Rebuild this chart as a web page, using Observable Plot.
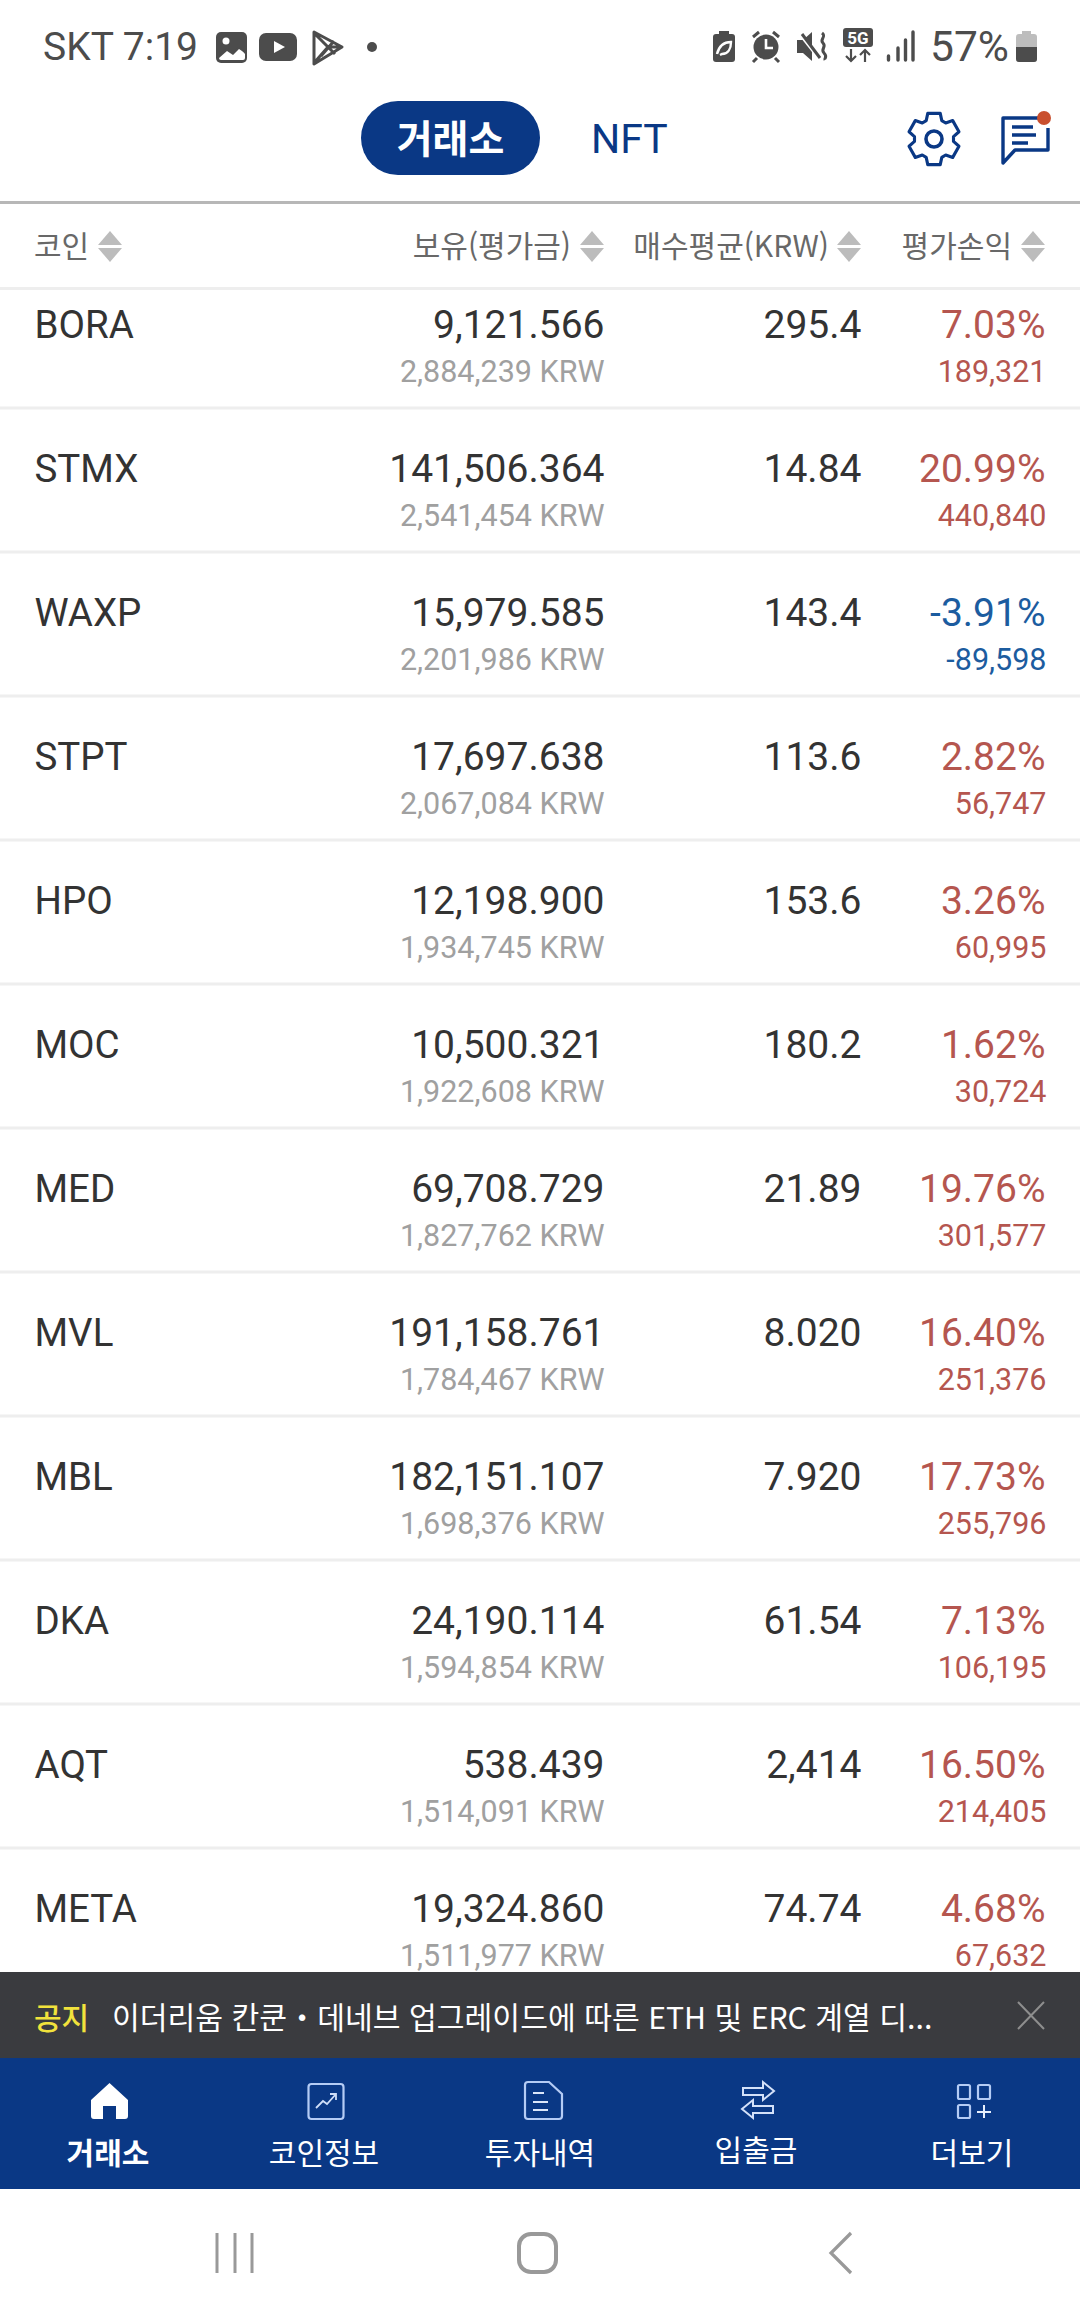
<!DOCTYPE html>
<html lang="ko"><head><meta charset="utf-8">
<script src="https://cdn.jsdelivr.net/npm/d3@7"></script>
<script src="https://cdn.jsdelivr.net/npm/@observablehq/plot@0.6"></script>
<style>
html,body{margin:0;padding:0;background:#fff;width:1080px;height:2316px;overflow:hidden;font-family:Roboto,"Noto Sans CJK KR",sans-serif}
#header{position:relative;height:288px;width:1080px;z-index:2}
#table{position:relative;width:1080px;height:1684px;overflow:hidden}
#table svg{display:block;overflow:hidden}
#footer{position:relative;width:1080px;height:344px}
.t{position:absolute;white-space:nowrap;line-height:1}
.kr{font-family:"Noto Sans CJK KR",sans-serif}
svg.ov{position:absolute;left:0;top:0;overflow:visible}
</style></head><body>
<div id="header">
<svg class="ov" width="1080" height="288" viewBox="0 0 1080 288">
  <!-- status bar left icons -->
  <rect x="216" y="32" width="31" height="31" rx="5" fill="#4c4c4c"/>
  <circle cx="226" cy="41" r="3.5" fill="#fff"/>
  <path d="M219 56l8-7 6 4 6-6 6 7v4a2 2 0 0 1-2 2h-22a2 2 0 0 1-2-2z" fill="#fff"/>
  <path d="M219 55l8-7 6 4 6-6 6 6v1l-6-4-6 6-6-4-8 7z" fill="#4c4c4c"/>
  <rect x="259" y="33" width="38" height="28" rx="7" fill="#4c4c4c"/>
  <path d="M274 41l11 6-11 6z" fill="#fff"/>
  <path d="M314 32l28 15-28 17zM314 33l14 14-14 16M328 47h13M321 40l14 14M321 56l13-15" fill="none" stroke="#4c4c4c" stroke-width="3" stroke-linejoin="round"/>
  <circle cx="372" cy="47" r="5" fill="#4c4c4c"/>
  <!-- status bar right icons -->
  <rect x="713" y="34" width="22" height="28" rx="3" fill="#4c4c4c"/><rect x="719" y="31" width="10" height="4" fill="#4c4c4c"/>
  <path d="M717 54c2-8 7-12 14-12 0 7-3 12-9 12l-2 1" fill="none" stroke="#fff" stroke-width="2.4"/>
  <circle cx="766" cy="47" r="12.5" fill="#4c4c4c"/>
  <path d="M766 39v9h7" fill="none" stroke="#fff" stroke-width="2.6"/>
  <path d="M753 37l6-5M779 37l-6-5M757 58l-4 4M775 58l4 4" stroke="#4c4c4c" stroke-width="3" fill="none"/>
  <path d="M797 40h6l9-8v29l-9-8h-6z" fill="#4c4c4c"/>
  <path d="M799 33l22 28" stroke="#fff" stroke-width="3"/><path d="M802 34l18 24" stroke="#4c4c4c" stroke-width="3"/>
  <path d="M822 33c5 4-3 6 1 10s-3 6 1 10 0 5 1 7" fill="none" stroke="#4c4c4c" stroke-width="3"/>
  <rect x="843" y="28" width="30" height="19" rx="3" fill="#4c4c4c"/>
  <text x="858" y="44" text-anchor="middle" font-family="Roboto" font-weight="700" font-size="17" fill="#fff">5G</text>
  <path d="M851 49v12M846 56l5 5 5-5M865 62v-12M860 55l5-5 5 5" fill="none" stroke="#4c4c4c" stroke-width="2.2"/>
  <path d="M888.500 56v4M898 48v12M905.500 40v20M913 32v28" stroke="#4c4c4c" stroke-width="3.4" stroke-linecap="round" fill="none"/>
  <rect x="1016" y="34" width="21" height="28" rx="3" fill="#bdbdbd"/><rect x="1022" y="31" width="9" height="4" fill="#bdbdbd"/>
  <path d="M1016 47h21v12a3 3 0 0 1-3 3h-15a3 3 0 0 1-3-3z" fill="#4c4c4c"/>
  <!-- tab pill -->
  <rect x="361" y="101" width="179" height="74" rx="37" fill="#0a3885"/>
  <!-- gear -->
  <path d="M926 112h16l2 9 5 3 9-3 8 14-7 6v6l7 6-8 14-9-3-5 3-2 9h-16l-2-9-5-3-9 3-8-14 7-6v-6l-7-6 8-14 9 3 5-3z" transform="translate(934 139) scale(.78 .8) translate(-934 -144)" fill="none" stroke="#0a3885" stroke-width="4" stroke-linejoin="round"/>
  <circle cx="934" cy="139" r="8" fill="none" stroke="#0a3885" stroke-width="3.6"/>
  <!-- chat -->
  <path d="M1040 118h-37v45l12-13h33v-22" fill="none" stroke="#0a3885" stroke-width="3.4" stroke-linejoin="round"/>
  <path d="M1012 127h21M1012 135h24M1012 143h16" stroke="#0a3885" stroke-width="3.4" fill="none"/>
  <circle cx="1044" cy="118" r="7" fill="#c9502f"/>
  <!-- rules -->
  <rect x="0" y="201" width="1080" height="3" fill="#b7b7b7"/>
  <rect x="0" y="287" width="1080" height="3" fill="#eeeeee"/>
  <g id="arrows" fill="#bcbcbc"></g>
</svg>
<div id="htext"></div>
</div>
<div id="table"></div>
<div id="footer">
<svg class="ov" width="1080" height="344" viewBox="0 1972 1080 344">
  <rect x="0" y="1972" width="1080" height="86" fill="#3a3b3f"/>
  <rect x="0" y="2058" width="1080" height="131" fill="#0a3885"/>
  <path d="M1018 2002l26 27M1044 2002l-26 27" stroke="#8e8e8e" stroke-width="2" fill="none"/>
  <!-- home -->
  <path d="M109.500 2083l18.500 17v16a3 3 0 0 1-3 3h-9v-13h-13v13h-9a3 3 0 0 1-3-3v-16z" fill="#fff"/>
  <!-- chart -->
  <rect x="308.500" y="2084" width="35" height="35" rx="3" fill="none" stroke="#b5ccf5" stroke-width="2.2"/>
  <path d="M316 2108l7-7 4 3 9-10M330 2094h6v6" fill="none" stroke="#cfdef8" stroke-width="1.8"/>
  <!-- doc -->
  <path d="M526 2082h21l13 12v22a3 3 0 0 1-3 3h-31a3 3 0 0 1-3-3v-31a3 3 0 0 1 3-3z" transform="translate(2 0)" fill="none" stroke="#b5ccf5" stroke-width="2.2"/>
  <path d="M533 2093h11M533 2102h15M533 2110h15" fill="none" stroke="#dbe6fa" stroke-width="2"/>
  <!-- exchange -->
  <path d="M743 2088h20v-6l11 9-11 9v-5h-20zM773 2106h-20v-6l-11 9 11 9v-5h20z" fill="none" stroke="#d4e1f9" stroke-width="2"/>
  <!-- more -->
  <g fill="none" stroke="#b5ccf5" stroke-width="2.200">
    <rect x="958" y="2085" width="12" height="14" rx="1.500"/><rect x="978" y="2085" width="12" height="14" rx="1.500"/><rect x="958" y="2105" width="12" height="13" rx="1.500"/>
  </g>
  <path d="M977 2112h14M984 2105v13" stroke="#e6eefc" stroke-width="2" fill="none"/>
  <!-- android nav -->
  <path d="M217 2233v40M235 2233v40M252 2233v40" stroke="#999" stroke-width="3" fill="none"/>
  <rect x="519" y="2234" width="37" height="38" rx="12" fill="none" stroke="#999" stroke-width="4"/>
  <path d="M851 2233l-20 20 20 20" stroke="#999" stroke-width="3.2" fill="none"/>
</svg>
<div id="ftext"></div>
</div>

<script>
// ---- table data ----
const coins = ["BORA","STMX","WAXP","STPT","HPO","MOC","MED","MVL","MBL","DKA","AQT","META"];
const holdings = [9121.566,141506.364,15979.585,17697.638,12198.900,10500.321,69708.729,191158.761,182151.107,24190.114,538.439,19324.860];
const valuesKRW = [2884239,2541454,2201986,2067084,1934745,1922608,1827762,1784467,1698376,1594854,1514091,1511977];
const avgPrices = ["295.4","14.84","143.4","113.6","153.6","180.2","21.89","8.020","7.920","61.54","2,414","74.74"];
const pnlPct = [7.03,20.99,-3.91,2.82,3.26,1.62,19.76,16.40,17.73,7.13,16.50,4.68];
const pnlKRW = [189321,440840,-89598,56747,60995,30724,301577,251376,255796,106195,214405,67632];
const columnLabels = ["코인","보유(평가금)","매수평균(KRW)","평가손익"];
const tabLabels = ["거래소","코인정보","투자내역","입출금","더보기"];
const topTabs = ["거래소","NFT"];
const noticeLabel = "공지";
const noticeText = "이더리움 칸쿤・데네브 업그레이드에 따른 ETH 및 ERC 계열 디...";
const statusLeft = "SKT 7:19";
const statusRight = "57%";

const rows = coins.map((coin,i)=>({coin,
  holding:d3.format(",.3f")(holdings[i]),
  value:d3.format(",")(valuesKRW[i])+" KRW",
  avg:avgPrices[i],
  pct:pnlPct[i].toFixed(2)+"%",
  pnl:d3.format(",")(pnlKRW[i]).replace("−","-"),
  dir:pnlPct[i]<0?"down":"up"}));

const MAIN = 39, SUB = 30.5, FONT = 'Roboto,"Noto Sans CJK KR",sans-serif';
const mainDy = -11, subDy = 36;
const colText = {frameAnchor:"right",fontFamily:FONT,textAnchor:"end"};

const chart = Plot.plot({
  width:1080,height:1684,margin:0,
  style:{background:"transparent",fontFamily:FONT},
  x:{axis:null},
  y:{type:"band",domain:coins,range:[-25,1704.2],padding:0,axis:null},
  color:{domain:["up","down"],range:["#b5564f","#1c5c9f"]},
  marks:[
    Plot.tickY(rows,{y:"coin",dy:71.5,stroke:"#eeeeee",strokeWidth:3,strokeOpacity:1}),
    Plot.text(rows,{y:"coin",text:"coin",frameAnchor:"left",textAnchor:"start",dx:34,dy:mainDy,fontSize:38.5,fill:"#333333",fontFamily:FONT}),
    Plot.text(rows,{...colText,y:"coin",text:"holding",dx:-476,dy:mainDy,fontSize:MAIN,fill:"#333333"}),
    Plot.text(rows,{...colText,y:"coin",text:"value",dx:-476,dy:subDy,fontSize:SUB,fill:"#a0a0a0"}),
    Plot.text(rows,{...colText,y:"coin",text:"avg",dx:-219,dy:mainDy,fontSize:MAIN,fill:"#333333"}),
    Plot.text(rows,{...colText,y:"coin",text:"pct",dx:-35,dy:mainDy,fontSize:MAIN,fill:"dir"}),
    Plot.text(rows,{...colText,y:"coin",text:"pnl",dx:-34,dy:subDy,fontSize:SUB,fill:"dir"})
  ]
});
document.getElementById("table").append(chart);

// ---- page chrome around the chart ----
function put(host,txt,css,kr=true){const e=document.createElement("div");e.className="t"+(kr?" kr":"");e.textContent=txt;e.style.cssText=css;host.append(e);return e}
const H=document.getElementById("htext"),F=document.getElementById("ftext");
put(H,statusLeft,"left:43px;top:28px;font-size:39px;color:#4c4c4c;font-weight:400",false);
put(H,statusRight,"right:71px;top:26px;font-size:42.5px;color:#4c4c4c",false);
put(H,topTabs[0],"left:361px;width:179px;text-align:center;top:117px;font-size:39px;color:#fff;font-weight:700");
put(H,topTabs[1],"left:591px;top:119px;font-size:41px;color:#0a3885",false);
const colPos=[["left:34px",110],["right:509px",592],["right:251px",849],["right:68px",1033]];
colPos.forEach(([p,ax],i)=>{
  put(H,columnLabels[i],p+";top:229px;font-size:30px;color:#686868");
  document.getElementById("arrows").innerHTML+=`<path d="M${ax-12} 245l12-14 12 14z"/><path d="M${ax-12} 248l12 14 12-14z"/>`;
});
put(F,noticeLabel,"left:34px;top:29px;font-size:30px;color:#f1e23c;font-weight:500");
put(F,noticeText,"left:112px;top:29px;font-size:30.2px;color:#fff");
[108,324,540,756,972].forEach((c,i)=>{
  put(F,tabLabels[i],`left:${c-100}px;width:200px;text-align:center;top:${i==3?161:164}px;font-size:30px;color:#fff;font-weight:${i==0?700:400}`);
});
</script>
</body></html>
